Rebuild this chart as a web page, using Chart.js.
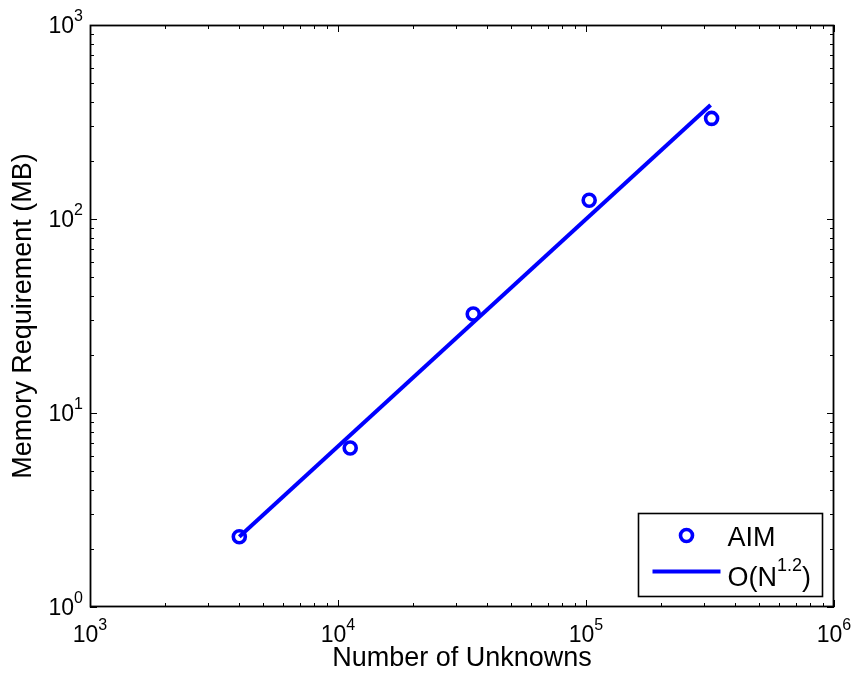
<!DOCTYPE html>
<html>
<head>
<meta charset="utf-8">
<script src="https://cdn.jsdelivr.net/npm/chart.js@4.4.1/dist/chart.umd.min.js"></script>
<style>
html,body{margin:0;padding:0;background:#fff}
canvas{display:block}
</style>
</head>
<body>
<canvas id="c" width="854" height="682"></canvas>
<script>

// measured points (number of unknowns vs memory in MB)
const unknowns = [4000, 11200, 35100, 103000, 321000]
const memoryMB = [2.3, 6.6, 32.4, 125, 330]

// fitted O(N^1.2) line, two end points
const fitN = [4000, 318000]
const fitMB = [2.3, 387]

const xDecades = [3, 4, 5, 6]
const yDecades = [0, 1, 2, 3]

const legendLabels = ["AIM", "O(N^{1.2})"]
const xTitle = "Number of Unknowns"
const yTitle = "Memory Requirement (MB)"

const FONT = '"Liberation Sans", Arial, sans-serif'
const BLUE = "#0000ff"


function parts(s){
const out=[]
const re=/\^\{([^}]*)\}/g
let last=0, m
while((m=re.exec(s))){
if(m.index>last) out.push([s.slice(last,m.index),false])
out.push([m[1],true])
last=re.lastIndex
}
if(last<s.length) out.push([s.slice(last),false])
return out
}

function richWidth(ctx,s,size,supSize){
let w=0
parts(s).forEach(([t,sup])=>{
ctx.font=(sup?supSize:size)+"px "+FONT
w+=ctx.measureText(t).width
})
return w
}

function drawRich(ctx,s,x,y,size,supSize,raise){
ctx.textAlign="left"
ctx.textBaseline="alphabetic"
parts(s).forEach(([t,sup])=>{
ctx.font=(sup?supSize:size)+"px "+FONT
ctx.fillText(t,x,sup?y-raise:y)
x+=ctx.measureText(t).width
})
}


// box, inside ticks and 10^n labels
const matlabAxes = {
id:"matlabAxes",
beforeDatasetsDraw(chart){
const {ctx, chartArea:a, scales:{x,y}} = chart
ctx.save()
ctx.strokeStyle="#000"
ctx.lineWidth=1
ctx.beginPath()

xDecades.forEach((d,i)=>{
for(let k=1;k<10;k++){
if(k>1 && i==xDecades.length-1) break
const px=Math.round(x.getPixelForValue(k*Math.pow(10,d)))+0.5
const len=k==1?7:4
ctx.moveTo(px,a.bottom); ctx.lineTo(px,a.bottom-len)
ctx.moveTo(px,a.top); ctx.lineTo(px,a.top+len)
}
})

yDecades.forEach((d,i)=>{
for(let k=1;k<10;k++){
if(k>1 && i==yDecades.length-1) break
const py=Math.round(y.getPixelForValue(k*Math.pow(10,d)))+0.5
const len=k==1?7:4
ctx.moveTo(a.left,py); ctx.lineTo(a.left+len,py)
ctx.moveTo(a.right,py); ctx.lineTo(a.right-len,py)
}
})
ctx.stroke()

ctx.lineWidth=1.8
ctx.strokeRect(Math.round(a.left)+0.5,Math.round(a.top)+0.5,Math.round(a.width)-1,Math.round(a.height)-1)

ctx.fillStyle="#000"
xDecades.forEach(d=>{
const s="10^{"+d+"}"
const w=richWidth(ctx,s,23,16)
drawRich(ctx,s,x.getPixelForValue(Math.pow(10,d))-w/2,a.bottom+35,23,16,12)
})
yDecades.forEach(d=>{
const s="10^{"+d+"}"
const w=richWidth(ctx,s,23,16)
drawRich(ctx,s,a.left-7-w,y.getPixelForValue(Math.pow(10,d))+8,23,16,12)
})
ctx.restore()
}
}

// legend box in the lower right corner
const boxLegend = {
id:"boxLegend",
afterDraw(chart){
const {ctx, chartArea:a} = chart
const ds = chart.data.datasets
const bw=184, bh=83
const bx=Math.round(a.right-12-bw)+0.5
const by=Math.round(a.bottom-11-bh)+0.5
ctx.save()
ctx.fillStyle="#fff"
ctx.fillRect(bx,by,bw,bh)
ctx.strokeStyle="#000"
ctx.lineWidth=1.6
ctx.strokeRect(bx,by,bw,bh)

// markers
ctx.strokeStyle=ds[0].borderColor
ctx.lineWidth=ds[0].pointBorderWidth
ctx.beginPath()
ctx.arc(bx+48,by+22,ds[0].pointRadius,0,Math.PI*2)
ctx.stroke()

ctx.strokeStyle=ds[1].borderColor
ctx.lineWidth=ds[1].borderWidth
ctx.beginPath()
ctx.moveTo(bx+14,by+58)
ctx.lineTo(bx+82,by+58)
ctx.stroke()

ctx.fillStyle="#000"
drawRich(ctx,ds[0].label,bx+89,by+32,27,18,15)
drawRich(ctx,ds[1].label,bx+89,by+72,27,18,15)
ctx.restore()
}
}


new Chart(document.getElementById("c"),{

type:"scatter",

data:{
datasets:[
{
label:legendLabels[0],
data:unknowns.map((n,i)=>({x:n,y:memoryMB[i]})),
showLine:false,
borderColor:BLUE,
backgroundColor:"rgba(0,0,0,0)",
pointRadius:6,
pointHoverRadius:6,
pointBorderWidth:3.6
},
{
label:legendLabels[1],
data:fitN.map((n,i)=>({x:n,y:fitMB[i]})),
showLine:true,
borderColor:BLUE,
backgroundColor:BLUE,
borderWidth:4,
pointRadius:0,
pointHoverRadius:0
}
]
},

options:{
responsive:false,
animation:false,
devicePixelRatio:1,
events:[],
layout:{padding:{top:25,right:20,left:0,bottom:0}},
plugins:{
legend:{display:false},
tooltip:{enabled:false}
},
scales:{
x:{
type:"logarithmic",
min:1000,
max:1000000,
ticks:{display:false},
grid:{display:false},
border:{display:false},
title:{display:true,text:xTitle,color:"#000",font:{size:27,family:FONT},padding:{top:0,bottom:7}},
afterFit(s){s.height=75}
},
y:{
type:"logarithmic",
min:1,
max:1000,
ticks:{display:false},
grid:{display:false},
border:{display:false},
title:{display:true,text:yTitle,color:"#000",font:{size:27,family:FONT},padding:{top:7,bottom:0}},
afterFit(s){s.width=90}
}
}
},

plugins:[matlabAxes,boxLegend]

})

</script>
</body>
</html>
